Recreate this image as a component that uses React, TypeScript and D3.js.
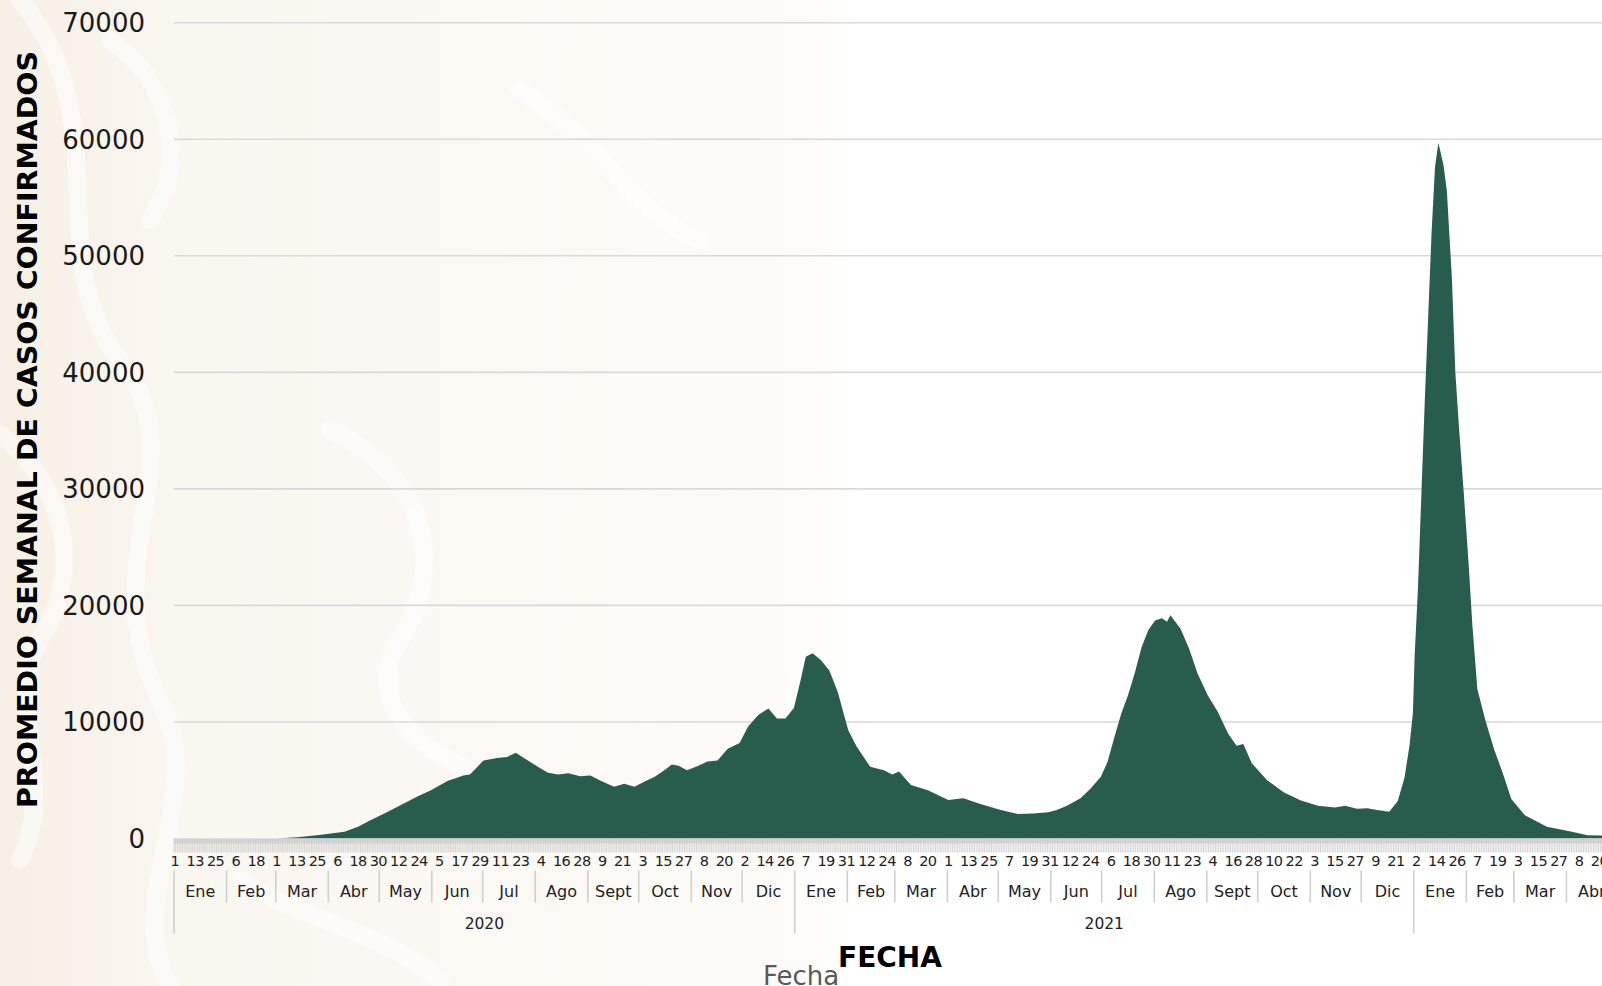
import React from "react";
import * as d3 from "d3";

// Promedio semanal de casos confirmados (lectura del gráfico)
const FECHAS = [
  "2020-01-01","2020-03-01","2020-03-13","2020-03-26","2020-04-10","2020-04-18","2020-04-25",
  "2020-05-05","2020-05-15","2020-05-23","2020-05-31","2020-06-10","2020-06-15","2020-06-19",
  "2020-06-23","2020-06-27","2020-07-01","2020-07-09","2020-07-15","2020-07-20","2020-07-26",
  "2020-08-02","2020-08-08","2020-08-14","2020-08-20","2020-08-27","2020-09-02","2020-09-09",
  "2020-09-16","2020-09-22","2020-09-28","2020-10-04","2020-10-10","2020-10-16","2020-10-20",
  "2020-10-24","2020-10-29","2020-11-04","2020-11-10","2020-11-16","2020-11-22","2020-11-29",
  "2020-12-04","2020-12-10","2020-12-16","2020-12-21","2020-12-26","2020-12-31",
  "2021-01-04","2021-01-07","2021-01-11","2021-01-16","2021-01-21","2021-01-26","2021-02-01",
  "2021-02-06","2021-02-14","2021-02-22","2021-02-27","2021-03-03","2021-03-10","2021-03-20",
  "2021-04-01","2021-04-10","2021-04-20","2021-05-02","2021-05-12","2021-05-21","2021-05-30",
  "2021-06-04","2021-06-10","2021-06-18","2021-06-24","2021-06-30","2021-07-04","2021-07-08",
  "2021-07-12","2021-07-16","2021-07-20","2021-07-24","2021-07-28","2021-08-01","2021-08-05",
  "2021-08-08","2021-08-10","2021-08-16","2021-08-21","2021-08-26","2021-09-01","2021-09-07",
  "2021-09-13","2021-09-18","2021-09-22","2021-09-27","2021-10-06","2021-10-16","2021-10-26",
  "2021-11-05","2021-11-15","2021-11-21","2021-11-28","2021-12-04","2021-12-10","2021-12-17",
  "2021-12-22","2021-12-26","2021-12-29","2021-12-31",
  "2022-01-01","2022-01-03","2022-01-05","2022-01-07","2022-01-09","2022-01-11","2022-01-13",
  "2022-01-15","2022-01-18","2022-01-20","2022-01-23","2022-01-25","2022-01-27","2022-01-30",
  "2022-02-02","2022-02-04","2022-02-07","2022-02-12","2022-02-17","2022-02-22","2022-02-27",
  "2022-03-07","2022-03-20","2022-04-03","2022-04-13","2022-04-30",
];
const CASOS = [
  0, 0, 100, 300, 580, 1000, 1550,
  2250, 3000, 3600, 4150, 4950, 5200, 5400,
  5500, 6100, 6700, 6900, 7000, 7350, 6800,
  6150, 5650, 5500, 5600, 5350, 5400, 4900,
  4450, 4700, 4450, 4900, 5300, 5900, 6350,
  6250, 5850, 6200, 6600, 6700, 7700, 8200,
  9600, 10600, 11150, 10300, 10300, 11200,
  13600, 15600, 15900, 15300, 14400, 12500, 9300,
  7900, 6150, 5850, 5500, 5750, 4600, 4150,
  3300, 3450, 2950, 2450, 2100, 2150, 2250,
  2450, 2800, 3450, 4300, 5300, 6600, 8700,
  10700, 12300, 14200, 16400, 17900, 18700, 18900,
  18600, 19150, 18000, 16300, 14150, 12300, 10850,
  9000, 7950, 8100, 6450, 5000, 3950, 3250,
  2800, 2650, 2800, 2550, 2600, 2450, 2300,
  3200, 5200, 8000, 10800,
  15600, 21600, 29600, 37600, 44800, 52000, 57600,
  59700, 57800, 55600, 48000, 40000, 35600, 29600,
  23200, 18400, 12800, 10000, 7600, 5600, 3400,
  2000, 1000, 600, 280, 250,
];
const Y_TICKS = [0, 10000, 20000, 30000, 40000, 50000, 60000, 70000];
const MESES = ["Ene", "Feb", "Mar", "Abr", "May", "Jun", "Jul", "Ago", "Sept", "Oct", "Nov", "Dic"];
const EJE_Y = "PROMEDIO SEMANAL DE CASOS CONFIRMADOS";
const EJE_X = "FECHA";
const EJE_X2 = "Fecha";

const FONT = "'DejaVu Sans', 'Noto Sans', sans-serif";

export default function App() {
  const W = 1602;
  const H = 986;
  const parse = d3.utcParse("%Y-%m-%d");
  const start = new Date(Date.UTC(2020, 0, 1));
  const end = new Date(Date.UTC(2022, 4, 1));
  const nDays = d3.utcDay.count(start, end);
  const pxDay = 1.696;
  const x = d3.scaleUtc().domain([start, end]).range([174, 174 + nDays * pxDay]);
  const y = d3.scaleLinear().domain([0, 70000]).range([838.5, 22.7]);

  const data = FECHAS.map((f, i) => ({ d: d3.utcHour.offset(parse(f)!, 12), v: CASOS[i] }));
  const area = d3
    .area<{ d: Date; v: number }>()
    .x((p) => x(p.d))
    .y0(y(0))
    .y1((p) => y(p.v))
    .curve(d3.curveLinear);

  const days = d3.utcDay.range(start, end);
  const labelDays = d3.range(0, nDays, 12).map((k) => d3.utcDay.offset(start, k));
  const months = d3.utcMonth.range(start, end);
  const years = d3.utcYear.range(start, end);

  const base = y(0);
  const dayY = base + 27.5;
  const monthY = base + 58;
  const yearY = base + 90;

  return (
    <svg
      width={W}
      height={H}
      viewBox={`0 0 ${W} ${H}`}
      style={{ position: "absolute", left: 0, top: 0, display: "block", background: "#fff" }}
    >
      <defs>
        <linearGradient id="bg" x1="0" x2="1" y1="0" y2="0">
          <stop offset="0" stopColor="#f6efe5" />
          <stop offset="0.2" stopColor="#faf6f0" />
          <stop offset="0.9" stopColor="#fdfbf8" />
          <stop offset="1" stopColor="#ffffff" />
        </linearGradient>
      </defs>
      {/* fondo marca de agua */}
      <rect x={0} y={0} width={860} height={H} fill="url(#bg)" />
      <g fill="none" stroke="#ffffff" strokeWidth={18} strokeLinecap="round" opacity={0.55}>
        <path d="M20,0 C120,120 40,260 120,360 C200,460 90,560 160,700 C210,800 120,900 170,986" />
        <path d="M-20,420 C60,470 90,560 40,640 C0,700 60,780 20,860" />
        <path d="M110,40 C170,80 190,160 150,220" />
        <path d="M330,430 C420,470 450,560 400,640 C360,700 420,760 500,780" />
        <path d="M520,90 C600,140 640,220 700,240" />
        <path d="M240,880 C300,920 380,930 440,980" />
      </g>

      {/* líneas de cuadrícula */}
      {Y_TICKS.filter((t) => t > 0).map((t) => (
        <line key={t} x1={174} x2={W} y1={y(t)} y2={y(t)} stroke="#d9d9d9" strokeWidth={1.6} />
      ))}

      {/* área */}
      <path d={area(data) ?? ""} fill="#285d4d" />

      {/* banda de marcas diarias */}
      <rect x={174} y={base} width={W - 174} height={5} fill="#d6d6d6" />
      {days.map((d, i) => (
        <line key={i} x1={x(d)} x2={x(d)} y1={base} y2={base + 14} stroke="#cfcfcf" strokeWidth={0.9} />
      ))}

      {/* etiquetas y */}
      {Y_TICKS.map((t) => (
        <text
          key={t}
          x={145}
          y={y(t)}
          dy="0.36em"
          textAnchor="end"
          fontFamily={FONT}
          fontSize={26}
          fill="#1a1a1a"
        >
          {t}
        </text>
      ))}

      {/* etiquetas de día */}
      {labelDays.map((d, i) => (
        <text
          key={i}
          x={x(d) + pxDay / 2}
          y={dayY}
          textAnchor="middle"
          fontFamily={FONT}
          fontSize={14.5}
          letterSpacing={-0.6}
          fill="#222"
        >
          {d.getUTCDate()}
        </text>
      ))}

      {/* separadores de mes */}
      {months
        .filter((m) => m.getUTCMonth() !== 0)
        .map((m, i) => (
          <line key={i} x1={x(m)} x2={x(m)} y1={base + 32} y2={base + 64} stroke="#d0d0d0" strokeWidth={1.6} />
        ))}
      {years.map((yy, i) => (
        <line key={i} x1={x(yy)} x2={x(yy)} y1={base + 32} y2={base + 95} stroke="#d0d0d0" strokeWidth={1.6} />
      ))}

      {/* etiquetas de mes */}
      {months.map((m, i) => {
        const next = d3.utcMonth.offset(m, 1);
        return (
          <text
            key={i}
            x={(x(m) + x(next)) / 2}
            y={monthY}
            textAnchor="middle"
            fontFamily={FONT}
            fontSize={16}
            fill="#222"
          >
            {MESES[m.getUTCMonth()]}
          </text>
        );
      })}

      {/* etiquetas de año (solo las visibles) */}
      {years
        .map((yy) => ({ yy, cx: (x(yy) + x(d3.utcYear.offset(yy, 1))) / 2 }))
        .filter((o) => o.cx < W - 40)
        .map((o, i) => (
          <text
            key={i}
            x={o.cx}
            y={yearY}
            textAnchor="middle"
            fontFamily={FONT}
            fontSize={15.5}
            fill="#222"
          >
            {o.yy.getUTCFullYear()}
          </text>
        ))}

      {/* títulos */}
      <text
        transform="translate(37,808) rotate(-90)"
        fontFamily={FONT}
        fontWeight="bold"
        fontSize={27}
        textLength={757}
        lengthAdjust="spacingAndGlyphs"
        fill="#000"
      >
        {EJE_Y}
      </text>
      <text x={890} y={967} textAnchor="middle" fontFamily={FONT} fontWeight="bold" fontSize={28} fill="#000">
        {EJE_X}
      </text>
      <text x={801} y={985} textAnchor="middle" fontFamily={FONT} fontSize={26} fill="#595959">
        {EJE_X2}
      </text>
    </svg>
  );
}
